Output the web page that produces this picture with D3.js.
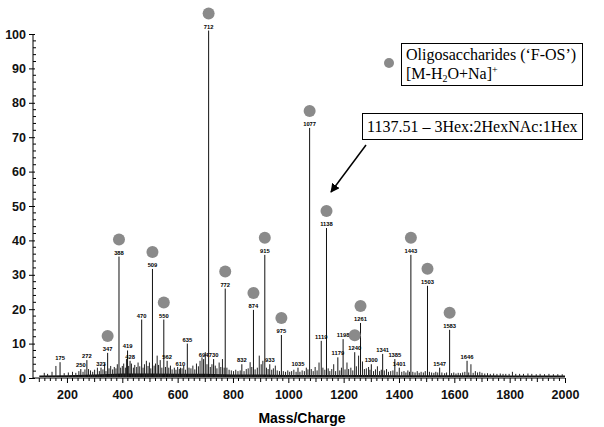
<!DOCTYPE html>
<html>
<head>
<meta charset="utf-8">
<script src="https://cdn.jsdelivr.net/npm/d3@7"></script>
<style>
  body { margin: 0; background: #fff; }
  svg { display: block; }
</style>
</head>
<body>
<div id="chart"></div>
<script>
/* labelled peaks: m/z, relative intensity (%), marked as oligosaccharide */
var peakMz  = [175, 250, 272, 323, 347, 388, 419, 428, 470, 509, 550, 562, 610, 635, 694, 712, 730, 772, 832, 874,
               915, 933, 975, 1035, 1077, 1119, 1138, 1179, 1198, 1240, 1261, 1300, 1341, 1385, 1401, 1443, 1503, 1547, 1583, 1646];
var peakInt = [4.6, 2.6, 5.2, 3.0, 7.3, 35.3, 8.0, 5.0, 17.0, 31.7, 17.0, 5.0, 3.0, 10.0, 5.5, 101, 5.5, 26.0, 4.0, 19.8,
               35.8, 4.0, 12.5, 3.0, 72.7, 10.8, 43.6, 6.0, 11.3, 7.5, 16.0, 4.0, 7.0, 5.5, 3.0, 35.8, 26.8, 3.0, 14.0, 5.0];
var oligoMz = [347, 388, 509, 550, 712, 772, 874, 915, 975, 1077, 1138, 1240, 1261, 1443, 1503, 1583];

/* unlabelled small peaks */
var noiseMz  = [118, 130, 146, 160, 190, 205, 220, 232, 243, 258, 265, 278, 285, 293, 300, 310, 317, 330, 336, 341,
                352, 358, 365, 371, 377, 382, 394, 400, 405, 411, 415, 423, 433, 440, 445, 452, 457, 463, 475, 480,
                487, 493, 498, 503, 515, 520, 526, 531, 537, 543, 556, 568, 574, 580, 588, 594, 600, 606, 616, 622,
                628, 641, 648, 655, 662, 668, 675, 681, 688, 700, 706, 718, 724, 736, 742, 750, 756, 762, 768, 778,
                786, 794, 802, 810, 818, 826, 840, 848, 855, 862, 868, 880, 888, 895, 902, 908, 921, 927, 940, 946,
                953, 960, 968, 982, 990, 998, 1005, 1012, 1020, 1028, 1042, 1050, 1058, 1065, 1071, 1083, 1090, 1097, 1104, 1111,
                1125, 1132, 1144, 1150, 1157, 1164, 1171, 1186, 1192, 1205, 1212, 1218, 1226, 1233, 1246, 1254, 1268, 1275, 1282, 1290,
                1295, 1308, 1315, 1322, 1330, 1336, 1347, 1355, 1362, 1370, 1378, 1393, 1410, 1418, 1425, 1432, 1438, 1450, 1458, 1466,
                1473, 1480, 1488, 1495, 1510, 1518, 1526, 1533, 1540, 1555, 1565, 1572, 1590, 1598, 1606, 1614, 1622, 1630, 1638, 1652,
                1660, 1668, 1676, 1684, 1692, 1700, 1710, 1720, 1730, 1742, 1754, 1766, 1776, 1786, 1798, 1810, 1822, 1836, 1850, 1866,
                1880, 1896, 1910, 1926, 1942, 1958, 1974, 1990];
var noiseInt = [1.5, 1.2, 1.8, 3.5, 1.4, 1.6, 1.8, 1.5, 2.0, 1.8, 2.5, 2.6, 2.2, 1.8, 2.4, 3.0, 2.0, 2.5, 4.2, 2.0,
                2.8, 3.5, 2.5, 3.2, 2.8, 4.0, 3.0, 3.5, 4.2, 3.0, 5.5, 3.5, 4.2, 3.0, 3.8, 3.2, 4.5, 3.4, 3.0, 4.0,
                5.0, 3.5, 4.5, 2.8, 3.6, 4.2, 6.5, 3.8, 5.2, 3.0, 3.2, 3.0, 3.6, 2.5, 3.0, 2.4, 3.2, 2.6, 2.8, 3.5,
                2.4, 3.0, 2.8, 3.6, 2.5, 4.2, 3.4, 5.0, 6.0, 7.5, 4.0, 3.2, 4.0, 3.6, 2.8, 4.5, 3.2, 5.5, 3.0, 3.0,
                2.4, 2.2, 2.0, 2.4, 2.0, 2.2, 2.0, 2.6, 2.8, 4.6, 3.2, 2.5, 3.0, 6.5, 4.0, 5.0, 3.0, 2.6, 2.4, 2.8,
                3.6, 2.2, 2.0, 2.0, 1.8, 2.2, 1.8, 2.0, 2.4, 1.8, 1.8, 2.2, 2.0, 3.0, 2.5, 2.6, 2.0, 3.2, 2.2, 4.5,
                3.0, 2.4, 2.8, 2.0, 2.6, 4.0, 2.0, 2.2, 3.0, 2.5, 4.5, 2.6, 3.0, 2.2, 3.4, 6.5, 4.8, 2.6, 2.8, 3.2,
                2.4, 2.0, 2.5, 3.4, 2.0, 2.4, 2.2, 2.6, 1.8, 2.0, 2.2, 1.8, 1.8, 2.0, 1.6, 2.2, 1.8, 1.8, 1.6, 2.0,
                1.5, 1.8, 1.6, 2.0, 1.8, 1.6, 1.5, 1.8, 1.6, 1.6, 1.4, 1.6, 1.4, 1.6, 1.3, 1.5, 1.4, 1.6, 1.8, 1.6,
                4.0, 1.5, 2.0, 1.6, 1.8, 1.5, 1.3, 1.4, 1.2, 1.3, 1.2, 1.3, 1.2, 1.2, 1.2, 1.8, 1.2, 1.2, 1.2, 1.3,
                1.2, 1.1, 1.2, 1.1, 1.2, 1.1, 1.1, 1.1];

/* baseline level of the trace */
var baseMz  = [100, 200, 300, 400, 500, 600, 700, 800, 900, 1000, 1100, 1200, 1300, 1400, 1500, 1600, 1700, 1800, 1900, 2000];
var baseInt = [0.7, 0.8, 1.0, 1.3, 1.3, 1.2, 1.2, 1.0, 1.0, 0.9, 0.9, 0.9, 0.9, 0.8, 0.8, 0.8, 0.8, 0.7, 0.7, 0.7];

var yTicks = [0, 10, 20, 30, 40, 50, 60, 70, 80, 90, 100];
var xTicks = [200, 400, 600, 800, 1000, 1200, 1400, 1600, 1800, 2000];

var width = 604, height = 427;

var svg = d3.select("#chart").append("svg")
	.attr("width", width)
	.attr("height", height);

var x = d3.scaleLinear().domain([100, 2000]).range([39.3, 565]);
var y = d3.scaleLinear().domain([0, 100]).range([378, 34]);

var axisFont = "'Liberation Sans', Arial, sans-serif";
var serif = "'Liberation Serif', 'Times New Roman', serif";

/* y axis */
var gy = svg.append("g").attr("transform", "translate(33,0)")
	.call(d3.axisLeft(y).tickValues(yTicks).tickSize(4).tickPadding(3));
gy.select(".domain").attr("d", "M0," + y(0) + "V" + y(100)).attr("stroke", "#000");
gy.selectAll(".tick line").attr("x2", 2).attr("x1", -4);
gy.selectAll("text").style("font-family", axisFont).style("font-size", "12.5px")
	.style("font-weight", "bold").attr("fill", "#111");
gy.selectAll(".ymin").data(d3.range(2, 100, 2).filter(function(d) { return d % 10; }))
	.enter().append("line").attr("class", "ymin")
	.attr("x1", 0).attr("x2", 3)
	.attr("y1", function(d) { return y(d); }).attr("y2", function(d) { return y(d); })
	.attr("stroke", "#000");

/* x axis */
var gx = svg.append("g").attr("transform", "translate(0," + y(0) + ")")
	.call(d3.axisBottom(x).tickValues(xTicks).tickFormat(d3.format("d")).tickSize(5).tickPadding(7));
gx.select(".domain").attr("d", "M33,0H" + x(2000)).attr("stroke", "#000");
gx.selectAll("text").style("font-family", axisFont).style("font-size", "12.5px")
	.style("font-weight", "bold").attr("fill", "#111");
gx.selectAll(".xmin").data(d3.range(100, 2001, 20).filter(function(d) { return d % 200; }))
	.enter().append("line").attr("class", "xmin")
	.attr("x1", function(d) { return x(d); }).attr("x2", function(d) { return x(d); })
	.attr("y1", 0).attr("y2", function(d) { return d % 100 ? 3 : 4; })
	.attr("stroke", "#000");

svg.append("text")
	.attr("x", 302).attr("y", 423)
	.attr("text-anchor", "middle")
	.style("font-family", axisFont).style("font-size", "14px").style("font-weight", "bold")
	.text("Mass/Charge");

/* trace */
var base = baseMz.map(function(m, i) { return [m, baseInt[i]]; });
svg.append("path")
	.datum(base)
	.attr("d", d3.area()
		.x(function(d) { return x(d[0]); })
		.y0(y(0) - 1)
		.y1(function(d) { return y(d[1]); }))
	.attr("fill", "#111");

var noise = noiseMz.map(function(m, i) { return {mz: m, v: noiseInt[i]}; });
svg.append("g").selectAll("line")
	.data(noise)
	.enter().append("line")
	.attr("x1", function(d) { return x(d.mz); }).attr("x2", function(d) { return x(d.mz); })
	.attr("y1", y(0) - 1).attr("y2", function(d) { return y(d.v); })
	.attr("stroke", "#222").attr("stroke-width", 1);

var peaks = peakMz.map(function(m, i) {
	return {mz: m, v: peakInt[i], oligo: oligoMz.indexOf(m) >= 0};
});

svg.append("g").selectAll("line")
	.data(peaks)
	.enter().append("line")
	.attr("x1", function(d) { return x(d.mz); }).attr("x2", function(d) { return x(d.mz); })
	.attr("y1", y(0) - 1).attr("y2", function(d) { return y(d.v); })
	.attr("stroke", "#111").attr("stroke-width", 1);

svg.append("g").selectAll("text")
	.data(peaks)
	.enter().append("text")
	.attr("x", function(d) { return x(d.mz); })
	.attr("y", function(d) { return y(d.v) - 2; })
	.attr("text-anchor", "middle")
	.style("font-family", axisFont).style("font-size", "5.8px").style("font-weight", "bold")
	.text(function(d) { return d.mz; });

svg.append("g").selectAll("circle")
	.data(peaks.filter(function(d) { return d.oligo; }))
	.enter().append("circle")
	.attr("cx", function(d) { return x(d.mz); })
	.attr("cy", function(d) { return y(d.v) - 17; })
	.attr("r", 6)
	.attr("fill", "#8a8a8a");

/* legend */
svg.append("circle").attr("cx", 389).attr("cy", 63).attr("r", 5).attr("fill", "#8a8a8a");
svg.append("rect").attr("x", 401.5).attr("y", 43.5).attr("width", 181).attr("height", 42)
	.attr("fill", "none").attr("stroke", "#000");
svg.append("text").attr("x", 406).attr("y", 60)
	.style("font-family", serif).style("font-size", "16px")
	.text("Oligosaccharides (\u2018F-OS\u2019)");
var l2 = svg.append("text").attr("x", 406).attr("y", 79)
	.style("font-family", serif).style("font-size", "16px");
l2.append("tspan").text("[M-H");
l2.append("tspan").attr("dy", 3).style("font-size", "10px").text("2");
l2.append("tspan").attr("dy", -3).text("O+Na]");
l2.append("tspan").attr("dy", -6).style("font-size", "10px").text("+");

/* annotation */
svg.append("rect").attr("x", 362.5).attr("y", 113.5).attr("width", 220).attr("height", 26)
	.attr("fill", "none").attr("stroke", "#000");
svg.append("text").attr("x", 367).attr("y", 132)
	.style("font-family", serif).style("font-size", "16px")
	.text("1137.51 \u2013 3Hex:2HexNAc:1Hex");

svg.append("defs").append("marker")
	.attr("id", "head").attr("viewBox", "0 0 10 10")
	.attr("refX", 9).attr("refY", 5)
	.attr("markerWidth", 6).attr("markerHeight", 6)
	.attr("orient", "auto")
	.append("path").attr("d", "M0,0L10,5L0,10z").attr("fill", "#000");
svg.append("line")
	.attr("x1", 366).attr("y1", 145).attr("x2", 331).attr("y2", 192)
	.attr("stroke", "#000").attr("stroke-width", 1.5)
	.attr("marker-end", "url(#head)");
</script>
</body>
</html>
